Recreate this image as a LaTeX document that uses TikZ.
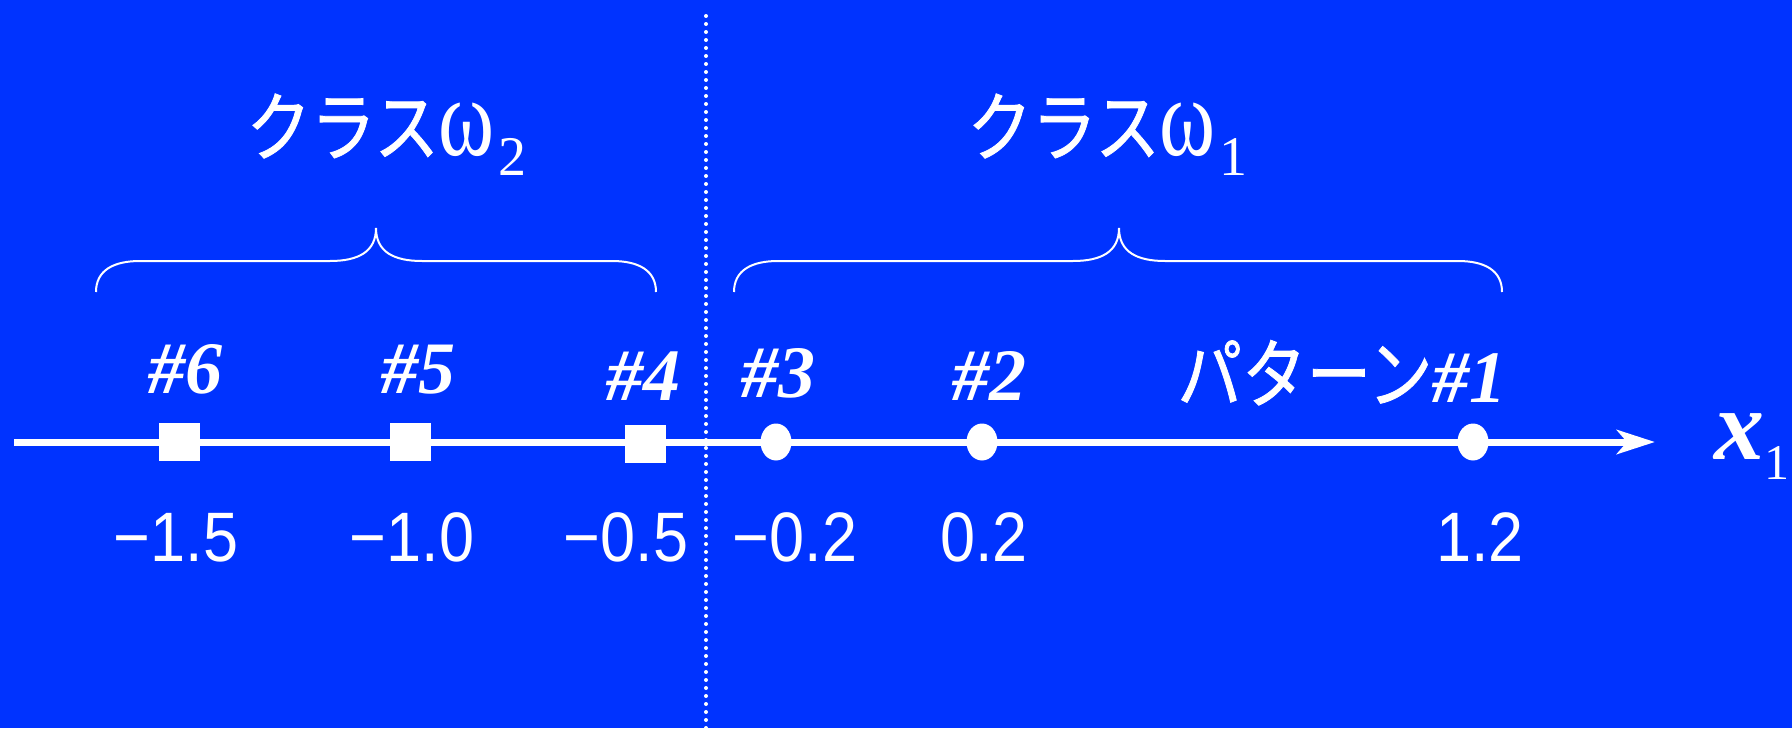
\documentclass[tikz,border=0pt]{standalone}
\usepackage{fontspec}
\usetikzlibrary{shapes.geometric,arrows.meta}
\newfontfamily\jpfont[FakeStretch=0.85,FakeBold=1]{Noto Sans CJK JP}
\newfontfamily\numfont[FakeStretch=0.9]{Liberation Sans}
\newfontfamily\lserif{Liberation Serif}
\newfontfamily\omegafont[FakeStretch=0.76]{Liberation Serif}
\definecolor{bgblue}{RGB}{0,51,255}
\newcommand{\jpsize}{\fontsize{38pt}{40pt}\selectfont}
\newcommand{\hashstyle}{\lserif\bfseries\itshape\fontsize{37pt}{40pt}\selectfont}
\newcommand{\classlabel}[1]{{\jpfont\jpsize クラス}{\omegafont\fontsize{56pt}{58pt}\selectfont ω}\hspace{2pt}\raisebox{-10pt}{\lserif\fontsize{28pt}{30pt}\selectfont #1}}
\begin{document}
\begin{tikzpicture}[x=0.5pt,y=-0.5pt,
  axisline/.style={line width=3.5pt, draw=white, -{Stealth[length=19pt,width=12pt,inset=5pt]}},
  sqmark/.style={rectangle, fill=white, minimum width=20.5pt, minimum height=19pt, inner sep=0pt},
  circmark/.style={ellipse, fill=white, minimum width=15.5pt, minimum height=18.5pt, inner sep=0pt},
  hashlbl/.style={anchor=base, inner sep=0pt, text=white, font=\hashstyle},
  numlbl/.style={anchor=base, inner sep=0pt, text=white, font=\numfont\fontsize{35pt}{38pt}\selectfont},
  classlbl/.style={anchor=base west, inner sep=0pt, text=white},
  bracepath/.style={draw=white, line width=1pt},
  divider/.style={draw=white, line width=2pt, line cap=round, dash pattern=on 0pt off 4pt}
]
\fill[bgblue] (0,0) rectangle (1792,728);
\useasboundingbox (0,0) rectangle (1792,728);

% dotted divider
\coordinate (divtop) at (706,16);
\coordinate (divbot) at (706,728);
\draw[divider] (divtop) -- (divbot);

% class labels
\node[classlbl] (c2) at (246,155) {\classlabel{2}};
\node[classlbl] (c1) at (967,155) {\classlabel{1}};

% braces
\draw[bracepath] (96,292) .. controls (96,270) and (114,261) .. (140,261) -- (330,261)
  .. controls (358,261) and (376,252) .. (376,228)
  .. controls (376,252) and (394,261) .. (422,261) -- (612,261)
  .. controls (638,261) and (656,270) .. (656,292);
\draw[bracepath] (734,292) .. controls (734,270) and (752,261) .. (778,261) -- (1073,261)
  .. controls (1101,261) and (1119,252) .. (1119,228)
  .. controls (1119,252) and (1137,261) .. (1165,261) -- (1458,261)
  .. controls (1484,261) and (1502,270) .. (1502,292);

% axis
\coordinate (axstart) at (14,442);
\coordinate (axtip) at (1655,442);
\draw[axisline] (axstart) -- (axtip);

% markers
\node[sqmark] (p6) at (179.5,442) {};
\node[sqmark] (p5) at (410.5,442) {};
\node[sqmark] (p4) at (645,444) {};
\node[circmark] (p3) at (776,442) {};
\node[circmark] (p2) at (982,442) {};
\node[circmark] (p1) at (1473,442) {};

% pattern labels
\node[hashlbl] (l6) at (185,393) {\#6};
\node[hashlbl] (l5) at (418,393) {\#5};
\node[hashlbl] (l4) at (643,400) {\#4};
\node[hashlbl] (l3) at (778,397) {\#3};
\node[hashlbl] (l2) at (989,400) {\#2};
\node[anchor=base west, inner sep=0pt, text=white] (l1) at (1177,402)
  {{\jpfont\jpsize パターン}{\hashstyle\#1}};

% values
\node[numlbl] (v6) at (176,561) {−1.5};
\node[numlbl] (v5) at (412,561) {−1.0};
\node[numlbl] (v4) at (626,561) {−0.5};
\node[numlbl] (v3) at (795,561) {−0.2};
\node[numlbl] (v2) at (984,561) {0.2};
\node[numlbl] (v1) at (1480,561) {1.2};

% axis label
\node[anchor=base west, inner sep=0pt, text=white] (xlab) at (1714,459)
  {{\lserif\bfseries\itshape\fontsize{50pt}{52pt}\selectfont x}\raisebox{-10pt}{\lserif\fontsize{25pt}{27pt}\selectfont 1}};
\end{tikzpicture}
\end{document}
